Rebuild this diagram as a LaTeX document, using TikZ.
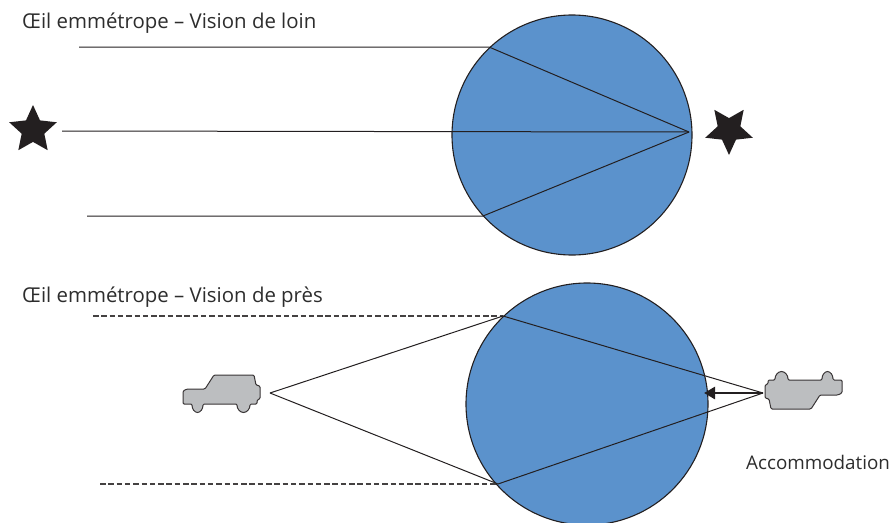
\documentclass[tikz,border=0pt]{standalone}
\usepackage{fontspec}
\setmainfont{Open Sans}
\usetikzlibrary{arrows.meta,shapes.geometric}

\definecolor{eyeblue}{RGB}{91,146,204}
\definecolor{ink}{RGB}{35,31,32}
\definecolor{cargray}{RGB}{188,190,192}
\definecolor{textgray}{RGB}{45,45,45}

\begin{document}
\begin{tikzpicture}[x=1pt,y=-1pt,
  eye/.style={circle, draw=ink, line width=1.1pt, fill=eyeblue, inner sep=0pt, minimum size=#1},
  ray/.style={draw=ink, line width=1pt},
  guide/.style={draw=ink!85, line width=1.1pt, dash pattern=on 5.5pt off 2.8pt},
  title/.style={anchor=base west, font=\fontsize{20.4}{24}\selectfont, text=textgray, inner sep=0pt},
  caption/.style={anchor=base west, font=\fontsize{18.8}{22}\selectfont, text=textgray, inner sep=0pt},
  starmark/.style={star, star points=5, star point ratio=2.1, fill=ink, draw=none, inner sep=0pt, minimum size=50pt},
  push/.style={draw=ink, line width=2.6pt, -{Triangle[length=11pt,width=12pt]}},
  car/.pic={
    \draw[fill=cargray, draw=ink!90, line width=1pt, rounded corners=1.2pt]
      (-39,10) -- (-39,-3) -- (-35,-5) -- (-17,-5) -- (-8,-19) -- (32,-19)
      -- (34,-9) -- (38,-8) -- (38,5) -- (35,6) -- (35,10) -- (28,10)
      arc[start angle=0, end angle=180, x radius=6.5, y radius=8.5]
      -- (-19,10)
      arc[start angle=0, end angle=180, x radius=5.5, y radius=8.5]
      -- cycle;
  }
]
\useasboundingbox (0,0) rectangle (896,522);

% ---------- distant vision ----------
\node[title] (t1) at (22,28) {Œil emmétrope – Vision de loin};
\node[eye=240pt] (eyeA) at (572,135) {};

\node[starmark] (starL) at (33,130) {};
\node[starmark, shape border rotate=180] (starR) at (729,130) {};

\coordinate (a1) at (79,47);
\coordinate (a2) at (62,131);
\coordinate (a3) at (87,216);
\coordinate (h1) at (489,47);
\coordinate (h3) at (483,216);
\coordinate (fA) at (689,132);

\draw[ray] (a1) -- (h1) -- (fA);
\draw[ray] (a2) -- (fA);
\draw[ray] (a3) -- (h3) -- (fA);

% ---------- near vision ----------
\node[title] (t2) at (22,302) {Œil emmétrope – Vision de près};
\node[eye=242pt] (eyeB) at (587,404) {};

\pic (carL) at (222,394) {car};
\pic[rotate=180] (carR) at (803,390) {car};

\coordinate (src) at (270,393);
\coordinate (img) at (763,393);
\coordinate (g1) at (93,316);
\coordinate (g2) at (100,484);
\coordinate (k1) at (503,316);
\coordinate (k2) at (498,484);
\coordinate (tip) at (704,393);

\draw[guide] (g1) -- (k1);
\draw[guide] (g2) -- (k2);
\draw[ray] (src) -- (k1) -- (img);
\draw[ray] (src) -- (k2) -- (img);
\draw[push] (img) -- (tip);

\node[caption] (acc) at (746,469) {Accommodation};
\end{tikzpicture}
\end{document}
